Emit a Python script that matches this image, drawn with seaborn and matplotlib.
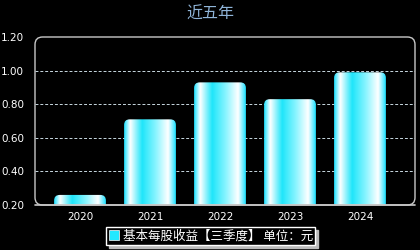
import numpy as np
import pandas as pd
import matplotlib
matplotlib.use("Agg")
import matplotlib.pyplot as plt
import seaborn as sns
from matplotlib.patches import FancyBboxPatch, Patch
from matplotlib.colors import LinearSegmentedColormap

years = ["2020", "2021", "2022", "2023", "2024"]
eps = [0.26, 0.71, 0.93, 0.83, 0.99]
yticks = [0.20, 0.40, 0.60, 0.80, 1.00, 1.20]
title = "近五年"
legend_label = "基本每股收益【三季度】 单位：元"

sns.set_theme(style="dark")
plt.rcParams['font.family'] = ['Noto Sans CJK SC', 'DejaVu Sans']

fig = plt.figure(figsize=(4.2, 2.5), dpi=100, facecolor="black")
ax = fig.add_axes([35/420, 1-205/250, 380/420, 168/250])
ax.set_facecolor("black")

df = pd.DataFrame({"year": years, "eps": eps})
sns.barplot(data=df, x="year", y="eps", color="#22e8ff", width=0.74, ax=ax)

ax.set_ylim(0.2, 1.2)
ax.set_xlim(-0.643, 4.786)
ax.set_yticks(yticks)
ax.set_yticklabels([f"{v:.2f}" for v in yticks])
ax.set_xlabel("")
ax.set_ylabel("")
ax.tick_params(axis="both", colors="white", labelsize=7.5, length=0, pad=5)
ax.tick_params(axis="y", pad=8)
for lab in ax.get_xticklabels() + ax.get_yticklabels():
    lab.set_family("DejaVu Sans")

for v in [0.4, 0.6, 0.8, 1.0]:
    ax.axhline(v, color="#c8d8e0", lw=0.7, ls=(0, (3, 2)), zorder=1)

for s in ax.spines.values():
    s.set_visible(False)

# rounded frame
frame = FancyBboxPatch((0, 0), 1, 1.0, boxstyle="round,pad=0,rounding_size=0.02",
                       transform=ax.transAxes, fill=False, ec="#c8c8c8", lw=1.0,
                       mutation_aspect=380/168, clip_on=False, zorder=5)
ax.add_patch(frame)
ax.plot([0, 1], [0, 0], transform=ax.transAxes, color="#c8c8c8", lw=1.2, clip_on=False, zorder=6)

# gradient bars
cmap = LinearSegmentedColormap.from_list("g", [
    (0.0, (0.1, 0.88, 1.0)),
    (0.12, (1.0, 1.0, 1.0)),
    (0.35, (0.12, 0.9, 0.98)),
    (0.62, (0.55, 0.96, 1.0)),
    (0.85, (1.0, 1.0, 1.0)),
    (1.0, (0.1, 0.88, 1.0)),
])
grad = np.linspace(0, 1, 256).reshape(1, -1)
aspect = (0.2/33.6) / (1/70)
for p in list(ax.patches):
    if p is frame:
        continue
    x0, w, h = p.get_x(), p.get_width(), p.get_height()
    p.set_visible(False)
    im = ax.imshow(grad, cmap=cmap, aspect="auto", extent=(x0, x0+w, 0, h), zorder=3)
    clip = FancyBboxPatch((x0, 0), w, h, boxstyle="round,pad=0,rounding_size=0.08",
                          mutation_aspect=aspect, transform=ax.transData, fc="none", ec="none")
    ax.add_patch(clip)
    im.set_clip_path(clip)

ax.set_xlim(-0.643, 4.786)
ax.set_ylim(0.2, 1.2)

fig.text(0.5, 1-14/250, title, ha="center", va="center", color="#8fb4d8", fontsize=11.5)

leg = fig.legend(handles=[Patch(facecolor="#22e8ff", edgecolor="white", lw=0.5)],
                 labels=[legend_label], loc="center", bbox_to_anchor=(0.502, 1-236/250),
                 frameon=True, fancybox=False, shadow={"color": "#bbbbbb", "alpha": 1.0},
                 fontsize=9, handlelength=0.8, handleheight=0.8, handletextpad=0.3,
                 borderpad=0.2, labelcolor="white")
leg.get_frame().set_facecolor("black")
leg.get_frame().set_edgecolor("white")
leg.get_frame().set_linewidth(1.0)

fig.savefig("out.png", dpi=100, facecolor="black")
